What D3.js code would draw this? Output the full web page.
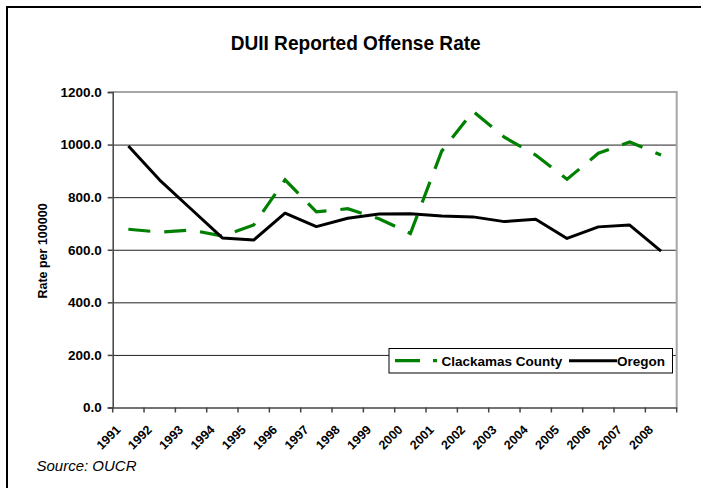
<!DOCTYPE html>
<html>
<head>
<meta charset="utf-8">
<script src="https://cdn.jsdelivr.net/npm/d3@7/dist/d3.min.js"></script>
<style>
  body { margin: 0; background: #fff; }
  svg { display: block; font-family: Arial, "Liberation Sans", sans-serif; }
</style>
</head>
<body>
<svg width="701" height="488"></svg>
<script>
  // chart data
  var years = ['1991', '1992', '1993', '1994', '1995', '1996', '1997', '1998', '1999',
    '2000', '2001', '2002', '2003', '2004', '2005', '2006', '2007', '2008'];
  var clackamas = [678, 667, 675, 652, 694, 866, 744, 756, 718,
    662, 975, 1127, 1028, 960, 868, 967, 1010, 960];
  var oregon = [995, 865, 755, 645, 637, 739, 688, 720, 736,
    737, 728, 725, 707, 716, 643, 687, 694, 595];
  var yTicks = [0, 200, 400, 600, 800, 1000, 1200];
  var seriesNames = ['Clackamas County', 'Oregon'];

  (function () {
  var svg = d3.select('svg');

  var plotL = 112.7, plotR = 676.7, plotT = 92, plotB = 407.5;

  var x = d3.scaleBand().domain(years).range([plotL, plotR]).padding(0);
  var y = d3.scaleLinear().domain([0, 1200]).range([plotB, plotT]);
  var cx = function (d) { return x(d) + x.bandwidth() / 2; };

  // outer frame
  svg.append('rect')
    .attr('x', 7).attr('y', 7).attr('width', 800).attr('height', 600)
    .attr('fill', 'none').attr('stroke', '#000').attr('stroke-width', 2);

  // title
  svg.append('text')
    .attr('x', 355.7).attr('y', 50)
    .attr('text-anchor', 'middle')
    .attr('font-size', '20.5px').attr('font-weight', 'bold')
    .attr('textLength', 250).attr('lengthAdjust', 'spacingAndGlyphs')
    .text('DUII Reported Offense Rate');

  // gridlines
  var grid = svg.append('g').attr('transform', 'translate(' + plotL + ',0)')
    .call(d3.axisLeft(y).tickValues(yTicks.slice(1, -1)).tickSize(-(plotR - plotL)).tickFormat(''));
  grid.select('.domain').remove();
  grid.selectAll('line').attr('stroke', '#222').attr('stroke-width', 1);

  // plot border top / right
  svg.append('path')
    .attr('d', 'M' + plotL + ',' + y(1200) + 'H' + plotR + 'V' + plotB)
    .attr('fill', 'none').attr('stroke', '#a6a6a6').attr('stroke-width', 2);

  // y axis
  var yAxis = svg.append('g').attr('transform', 'translate(' + plotL + ',0)')
    .call(d3.axisLeft(y).tickValues(yTicks).tickSize(5).tickPadding(6).tickFormat(d3.format('.1f')));
  yAxis.selectAll('path, line').attr('stroke', '#444').attr('stroke-width', 1.5);
  yAxis.selectAll('text').attr('font-size', '13.5px').attr('font-weight', 'bold')
    .attr('font-family', 'Arial, "Liberation Sans", sans-serif').attr('fill', '#000');

  // x axis
  var xAxis = svg.append('g').attr('transform', 'translate(0,' + plotB + ')')
    .call(d3.axisBottom(x).tickSize(0).tickPadding(0));
  xAxis.select('.domain').attr('stroke', '#444').attr('stroke-width', 1.5);
  xAxis.selectAll('text')
    .attr('x', 0).attr('y', 0).attr('dy', 0)
    .attr('text-anchor', 'end')
    .attr('transform', 'translate(-7,23) rotate(-45)')
    .attr('font-size', '12.5px').attr('font-weight', 'bold')
    .attr('font-family', 'Arial, "Liberation Sans", sans-serif').attr('fill', '#000');
  xAxis.selectAll('.bound')
    .data(years.concat(['end']))
    .enter().append('line')
    .attr('class', 'bound')
    .attr('x1', function (d, i) { return i < years.length ? x(d) : plotR; })
    .attr('x2', function (d, i) { return i < years.length ? x(d) : plotR; })
    .attr('y1', 0).attr('y2', 5)
    .attr('stroke', '#444').attr('stroke-width', 1.5);

  // y axis title
  svg.append('text')
    .attr('transform', 'translate(47,251) rotate(-90)')
    .attr('text-anchor', 'middle')
    .attr('font-size', '12.5px').attr('font-weight', 'bold')
    .text('Rate per 100000');

  // lines
  var line = d3.line()
    .x(function (d, i) { return cx(years[i]); })
    .y(function (d) { return y(d); });

  svg.append('path').datum(clackamas)
    .attr('d', line)
    .attr('fill', 'none').attr('stroke', '#008000').attr('stroke-width', 3.2)
    .attr('stroke-dasharray', '22,14');

  svg.append('path').datum(oregon)
    .attr('d', line)
    .attr('fill', 'none').attr('stroke', '#000').attr('stroke-width', 3)
    .attr('stroke-linejoin', 'round');

  // legend
  var lg = svg.append('g');
  lg.append('rect')
    .attr('x', 389).attr('y', 348.5).attr('width', 283.5).attr('height', 24.5)
    .attr('fill', '#fff').attr('stroke', '#000').attr('stroke-width', 1);
  lg.append('line')
    .attr('x1', 395).attr('x2', 437).attr('y1', 360.7).attr('y2', 360.7)
    .attr('stroke', '#008000').attr('stroke-width', 3.2)
    .attr('stroke-dasharray', '25,13,4,20');
  lg.append('text')
    .attr('x', 441.5).attr('y', 365.5)
    .attr('font-size', '13.5px').attr('font-weight', 'bold')
    .text(seriesNames[0]);
  lg.append('line')
    .attr('x1', 569).attr('x2', 617).attr('y1', 360.7).attr('y2', 360.7)
    .attr('stroke', '#000').attr('stroke-width', 3);
  lg.append('text')
    .attr('x', 617).attr('y', 365.5)
    .attr('font-size', '13.5px').attr('font-weight', 'bold')
    .text(seriesNames[1]);

  // source note
  svg.append('text')
    .attr('x', 36.5).attr('y', 470.5)
    .attr('font-size', '15px').attr('font-style', 'italic')
    .text('Source: OUCR');
  })();
</script>
</body>
</html>
